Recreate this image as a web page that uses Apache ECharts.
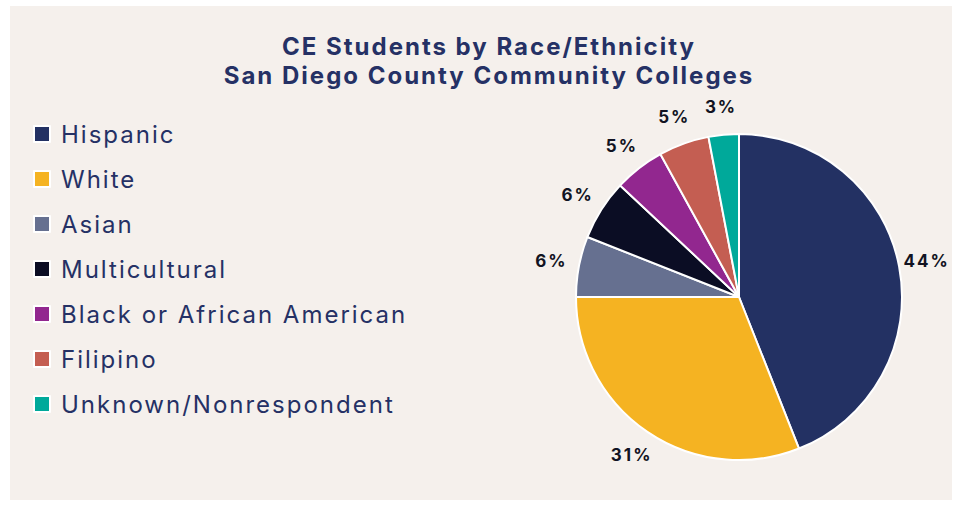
<!DOCTYPE html>
<html>
<head>
<meta charset="utf-8">
<script src="https://cdn.jsdelivr.net/npm/echarts@6/dist/echarts.min.js"></script>
<style>
  html, body { margin: 0; padding: 0; background: #fff; }
  #panel {
    position: absolute;
    left: 10px;
    top: 6px;
    width: 942px;
    height: 494px;
    background: #f5f0ec;
  }
  #chart {
    position: absolute;
    left: 0;
    top: 0;
    width: 962px;
    height: 506px;
  }
  /* the reference type is set with loose tracking */
  #chart text { letter-spacing: 2px; }
</style>
</head>
<body>
<div id="panel"></div>
<div id="chart"></div>
<script>
// chart data
const groups = ['Hispanic', 'White', 'Asian', 'Multicultural', 'Black or African American', 'Filipino', 'Unknown/Nonrespondent']
const shares = [44, 31, 6, 6, 5, 5, 3]
const colors = ['#233163', '#f5b322', '#667090', '#0b0d24', '#92278f', '#c45e52', '#00a99a']

const chart = echarts.init(document.getElementById('chart'), null, { renderer: 'svg' })

const option = {
  animation: false,
  title: {
    text: 'CE Students by Race/Ethnicity\nSan Diego County Community Colleges',
    left: 484,
    top: 27,
    textAlign: 'center',
    textStyle: {
      fontFamily: 'Inter',
      fontWeight: 'bold',
      fontSize: 24,
      lineHeight: 29,
      color: '#253165'
    }
  },
  legend: {
    orient: 'vertical',
    left: 28,
    top: 117,
    itemWidth: 16,
    itemHeight: 16,
    itemGap: 21,
    icon: 'rect',
    selectedMode: false,
    textStyle: {
      fontFamily: 'Inter',
      fontSize: 24,
      color: '#253165',
      padding: [0, 0, 0, 6]
    },
    data: groups
  },
  series: [
    {
      type: 'pie',
      center: [739, 297],
      radius: 163,
      startAngle: 90,
      clockwise: true,
      itemStyle: {
        borderColor: '#fff',
        borderWidth: 2
      },
      label: { show: false },
      labelLine: { show: false },
      data: groups.map((name, i) => ({
        name: name,
        value: shares[i],
        itemStyle: { color: colors[i] }
      }))
    },
    {
      // invisible ring, only used to place the centred percentage labels
      type: 'pie',
      center: [739, 297],
      radius: [183, 193],
      startAngle: 90,
      clockwise: true,
      silent: true,
      itemStyle: { color: 'transparent' },
      label: {
        show: true,
        position: 'inside',
        formatter: '{c}%',
        fontFamily: 'Inter',
        fontWeight: 'bold',
        fontSize: 17,
        color: '#111322'
      },
      labelLine: { show: false },
      data: groups.map((name, i) => ({ name: name, value: shares[i] }))
    }
  ]
}

chart.setOption(option)
</script>
</body>
</html>
